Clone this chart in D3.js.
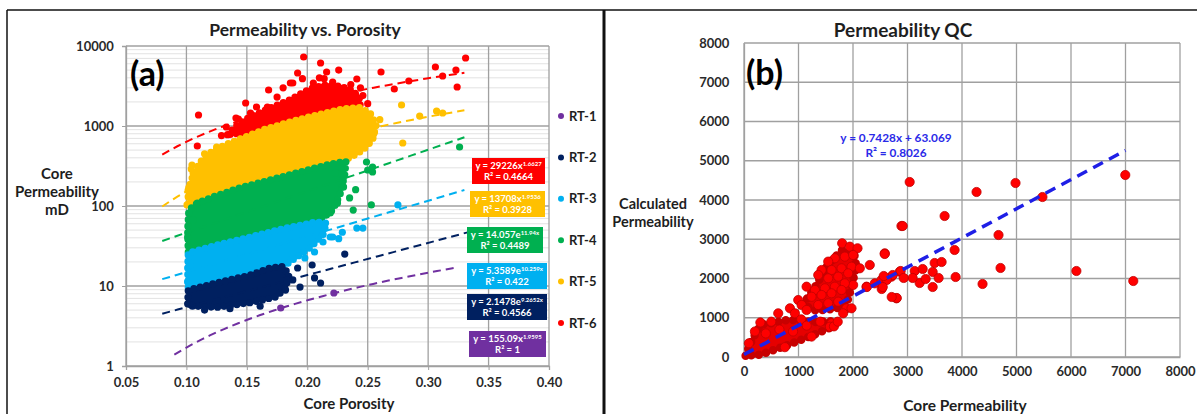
<!DOCTYPE html>
<html>
<head>
<meta charset="utf-8">
<script src="https://cdn.jsdelivr.net/npm/d3@7"></script>
<style>
  body { margin: 0; background: #fff; }
  text { font-family: Lato, 'Open Sans', sans-serif; font-weight: bold; }
</style>
</head>
<body>
<script>
// ---- panel (a) data : permeability vs porosity by rock type ----
const rockTypes = ['RT-1', 'RT-2', 'RT-3', 'RT-4', 'RT-5', 'RT-6'];
const xTicksA = [0.05, 0.10, 0.15, 0.20, 0.25, 0.30, 0.35, 0.40];
const yTicksA = [1, 10, 100, 1000, 10000];

// trend fits (coef, exponent, kind, R2, x range)
const fitCoef = [155.09, 2.1478, 5.3589, 14.057, 13708, 29226];
const fitExp = [1.9595, 9.2652, 10.259, 11.94, 1.9536, 1.6627];
const fitKind = ['pow', 'exp', 'exp', 'exp', 'pow', 'pow'];
const fitR2 = ['1', '0.4566', '0.422', '0.4489', '0.3928', '0.4664'];
const fitFrom = [0.09, 0.08, 0.08, 0.08, 0.08, 0.08];
const fitTo = [0.325, 0.335, 0.33, 0.33, 0.33, 0.33];

// dense clouds, outlines [porosity, mD]
const cloudRT6 = [[0.134,780],[0.141,1000],[0.150,1230],[0.160,1450],[0.172,1750],[0.185,2100],[0.194,2500],[0.203,2950],[0.215,3250],[0.227,3150],[0.237,2800],[0.243,2300],[0.244,1700],[0.232,1400],[0.200,1150],[0.160,850]];
const cloudRT5 = [[0.102,108],[0.101,150],[0.105,230],[0.111,350],[0.121,480],[0.133,590],[0.149,730],[0.165,910],[0.182,1080],[0.198,1260],[0.215,1450],[0.231,1650],[0.243,1700],[0.252,1450],[0.257,1029],[0.254,668],[0.246,501],[0.235,398],[0.219,345],[0.194,266],[0.169,211],[0.144,168],[0.124,133],[0.109,109]];
const cloudRT4 = [[0.1015,26.5],[0.101,50.1],[0.102,89],[0.109,109],[0.124,133],[0.144,168],[0.169,211],[0.194,266],[0.219,335],[0.232,360],[0.231,244],[0.227,137],[0.221,89],[0.211,67],[0.194,56],[0.180,52],[0.153,41],[0.125,32.5],[0.107,26.6]];
const cloudRT3 = [[0.1015,9.6],[0.101,15.8],[0.1015,25.8],[0.125,32.5],[0.153,41],[0.180,52],[0.207,63],[0.216,61],[0.213,43.4],[0.202,29.9],[0.190,22.4],[0.180,17.3],[0.153,13.7],[0.125,10.9],[0.107,9.0]];
const cloudRT2 = [[0.101,6.0],[0.1015,8.9],[0.125,10.9],[0.153,13.7],[0.169,16.8],[0.180,17.5],[0.185,13.7],[0.182,9.4],[0.174,7.3],[0.153,6.2],[0.125,5.4],[0.107,5.6]];
const cloudRT1 = [];

// single samples outside / on the edge of the clouds
const ptsRT6 = [[0.110,1372],[0.197,7287],[0.211,6132],[0.216,4732],[0.192,4597],[0.168,2818],[0.149,1939],[0.109,562],[0.241,3868],[0.261,4732],[0.272,2900],[0.284,3652],[0.306,5465],[0.312,4217],[0.323,5012],[0.331,7079],[0.324,3073],[0.141,1259],[0.158,1728],[0.188,3447],[0.150,944],[0.205,3447],[0.221,3548],[0.230,2585],[0.200,2585],[0.186,3447],[0.167,1728],[0.153,1454],[0.143,1223],[0.133,972],[0.129,760],[0.226,5000],[0.180,3000],[0.236,3300],[0.246,2400],[0.175,2300],[0.210,4000],[0.196,3900],[0.250,1900],[0.138,850],[0.162,1300],[0.244,3000],[0.214,3900]];
const ptsRT5 = [[0.1046,325],[0.1055,258],[0.108,211],[0.1055,133],[0.113,150],[0.120,410],[0.125,546],[0.1005,103],[0.111,194],[0.278,1830],[0.279,613],[0.293,1334],[0.307,1540],[0.312,1454],[0.252,972],[0.246,1496],[0.238,613],[0.230,434],[0.260,1200],[0.255,800],[0.104,290],[0.115,450],[0.102,170]];
const ptsRT4 = [[0.249,355],[0.254,307],[0.250,282],[0.254,266],[0.223,258],[0.230,230],[0.230,173],[0.225,109],[0.238,89],[0.253,103],[0.326,546],[0.219,82],[0.235,126],[0.101,41],[0.103,29.9],[0.1055,67],[0.109,109],[0.240,160],[0.228,300]];
const ptsRT3 = [[0.213,35.5],[0.219,41],[0.206,26.6],[0.198,22.4],[0.188,22.4],[0.275,103],[0.241,53],[0.246,53],[0.226,39],[0.221,41],[0.229,47],[0.101,11.2],[0.103,18.3]];
const ptsRT2 = [[0.192,16.8],[0.204,18.3],[0.206,12.6],[0.211,10.9],[0.194,9.7],[0.183,11.9],[0.182,8.9],[0.231,25.1],[0.188,11.9],[0.115,5.0],[0.136,5.2],[0.161,5.6],[0.105,5.6]];
const ptsRT1 = [[0.178,5.31],[0.222,8.18]];

// ---- panel (b) data : calculated vs core permeability ----
const xTicksB = [0, 1000, 2000, 3000, 4000, 5000, 6000, 7000, 8000];
const yTicksB = [0, 1000, 2000, 3000, 4000, 5000, 6000, 7000, 8000];
const qcSlope = 0.7428, qcIntercept = 63.069, qcR2 = '0.8026', qcTo = 7000;
const qcWedge = [[30,30],[110,330],[220,620],[320,830],[500,860],[700,920],[850,950],[1050,920],[1300,890],[1560,920],[1690,870],[1620,770],[1240,540],[750,280],[300,60]];
const qcCluster = [[1080,1330],[1320,1820],[1550,2380],[1800,2720],[2020,2640],[2060,2300],[1980,1835],[1880,1330],[1667,1230],[1320,1180]];
const qcPts = [[1801,2897],[1942,2811],[2083,2770],[1667,2515],[1850,2557],[2003,2599],[1545,2430],[1423,2217],[1606,2217],[1790,2260],[1973,2301],[2125,2260],[2308,2344],[1362,2090],[1545,2005],[1728,2047],[1911,2132],[2003,1835],[1148,1792],[1301,1707],[1484,1750],[1667,1792],[1850,1877],[995,1452],[1240,1536],[1423,1580],[1606,1623],[1790,1707],[1881,1241],[1819,1113],[1973,1241],[1057,1325],[843,1241],[628,1113],[934,1113],[1148,1198],[1362,1325],[1545,1368],[1728,1410],[2248,1792],[2400,1877],[2583,2642],[2523,1962],[2706,2047],[2858,2174],[2797,1495],[2889,3338],[1606,859],[1576,773],
  [3040,4459],[4267,4204],[4982,4433],[5476,4076],[6996,4637],[3681,3592],[2912,3338],[4670,3108],[2582,2624],[3864,2726],[4707,2268],[6099,2191],[7143,1936],[4377,1860],[2802,1503],[2875,2191],[3132,2191],[3278,2242],[3462,2166],[3498,2395],[3626,2420],[3571,2013],[3883,2038],[3462,1783],[3223,1885],[3333,1987],[3095,2013],[2930,2013],[2729,2089],[2619,1962],[2527,1732],[2564,2064],[2253,1783],[2546,1783],[2710,1529],
  [300,880],[90,350],[200,650],[750,250],[1240,520],[1650,780],[1720,900],[500,900],[1050,960],[400,600],[650,700],[900,650],[1150,800],[1400,900]];

// ---- drawing ----
const colors = ['#7030A0', '#002060', '#00B0F0', '#00B050', '#FFC000', '#FF0000'];
const clouds = [cloudRT1, cloudRT2, cloudRT3, cloudRT4, cloudRT5, cloudRT6];
const points = [ptsRT1, ptsRT2, ptsRT3, ptsRT4, ptsRT5, ptsRT6];
const ink = '#1e1e1e';

const svg = d3.select('body').append('svg').attr('width', 1197).attr('height', 414);

// frame lines of the figure
svg.append('line').attr('x1', 7).attr('x2', 1197).attr('y1', 10).attr('y2', 10).attr('stroke', '#111').attr('stroke-width', 1.5);
svg.append('line').attr('x1', 7).attr('x2', 7).attr('y1', 10).attr('y2', 414).attr('stroke', '#111').attr('stroke-width', 1.5);
svg.append('line').attr('x1', 604).attr('x2', 604).attr('y1', 10).attr('y2', 414).attr('stroke', '#111').attr('stroke-width', 3);

const gridCol = '#a0a0a0', tickCol = '#2a2a2a';

/* Panel (a) */
const xA = d3.scaleLinear().domain([0.05, 0.40]).range([126, 549]);
const yA = d3.scaleLog().domain([1, 10000]).range([366, 46]);
const gA = svg.append('g');

// minor log gridlines
const minorA = [];
[1, 10, 100, 1000].forEach(d => { for (let k = 2; k < 10; k++) minorA.push(d * k); });
gA.selectAll('.minor').data(minorA).enter().append('line')
  .attr('x1', xA(0.05)).attr('x2', xA(0.40))
  .attr('y1', d => yA(d)).attr('y2', d => yA(d))
  .attr('stroke', '#e2e2e2').attr('stroke-width', 1);
gA.selectAll('.hgrid').data(yTicksA).enter().append('line')
  .attr('x1', xA(0.05)).attr('x2', xA(0.40))
  .attr('y1', d => yA(d)).attr('y2', d => yA(d))
  .attr('stroke', gridCol).attr('stroke-width', 1.3);
gA.selectAll('.vgrid').data(xTicksA).enter().append('line')
  .attr('x1', d => xA(d)).attr('x2', d => xA(d))
  .attr('y1', yA(1)).attr('y2', yA(10000))
  .attr('stroke', gridCol).attr('stroke-width', 1.3);

const axA = gA.append('g').attr('transform', `translate(0,${yA(1)})`)
  .call(d3.axisBottom(xA).tickValues(xTicksA).tickFormat(d3.format('.2f')).tickSize(4));
const ayA = gA.append('g').attr('transform', `translate(${xA(0.05)},0)`)
  .call(d3.axisLeft(yA).tickValues(yTicksA).tickFormat(d3.format('d')).tickSize(4));
[axA, ayA].forEach(a => {
  a.select('.domain').attr('stroke', gridCol).attr('stroke-width', 1.3);
  a.selectAll('.tick line').attr('stroke', gridCol);
  a.selectAll('text').attr('fill', tickCol).style('font-size', '13px');
});
axA.selectAll('text').attr('dy', '1.1em');
ayA.selectAll('text').attr('dx', '-0.4em');

// clouds: filled outline with a beaded edge so it reads as packed dots
const cloudLine = d3.line().x(d => xA(d[0])).y(d => yA(d[1])).curve(d3.curveLinearClosed);
for (let i = 5; i >= 0; i--) {
  if (clouds[i].length) {
    gA.append('path').attr('d', cloudLine(clouds[i]))
      .attr('fill', colors[i]).attr('stroke', colors[i]).attr('stroke-width', 7.2)
      .attr('stroke-linecap', 'round').attr('stroke-dasharray', '0,6.5');
  }
  gA.append('g').selectAll('circle').data(points[i]).enter().append('circle')
    .attr('cx', d => xA(d[0])).attr('cy', d => yA(d[1])).attr('r', 3.6)
    .attr('fill', colors[i]);
}

// trend lines
function fitY(i, x) {
  return fitKind[i] === 'pow' ? fitCoef[i] * Math.pow(x, fitExp[i]) : fitCoef[i] * Math.exp(fitExp[i] * x);
}
const trendA = d3.line().x(d => xA(d[0])).y(d => yA(d[1]));
for (let i = 0; i < 6; i++) {
  const xs = d3.range(0, 41).map(k => fitFrom[i] + (fitTo[i] - fitFrom[i]) * k / 40);
  gA.append('path').attr('d', trendA(xs.map(x => [x, fitY(i, x)])))
    .attr('fill', 'none').attr('stroke', colors[i]).attr('stroke-width', 2)
    .attr('stroke-dasharray', '8,5');
}

// equation boxes
const boxTop = [331, 294, 263, 227, 191, 158];
const boxLeft = [469, 467, 467, 467, 470, 472];
const boxW = [77, 80, 80, 76, 75, 73];
for (let i = 0; i < 6; i++) {
  const bx = boxLeft[i], by = boxTop[i], cx = bx + boxW[i] / 2;
  gA.append('rect').attr('x', bx).attr('y', by).attr('width', boxW[i]).attr('height', 26).attr('fill', colors[i]);
  const t1 = gA.append('text').attr('x', cx).attr('y', by + 11).attr('text-anchor', 'middle')
    .attr('fill', '#fff').style('font-size', '9.5px');
  if (fitKind[i] === 'pow') {
    t1.append('tspan').text(`y = ${fitCoef[i]}x`);
    t1.append('tspan').attr('dy', -3).style('font-size', '6px').text(fitExp[i]);
  } else {
    t1.append('tspan').text(`y = ${fitCoef[i]}e`);
    t1.append('tspan').attr('dy', -3).style('font-size', '6px').text(fitExp[i] + 'x');
  }
  gA.append('text').attr('x', cx).attr('y', by + 22).attr('text-anchor', 'middle')
    .attr('fill', '#fff').style('font-size', '9.5px').text(`R² = ${fitR2[i]}`);
}

// legend
rockTypes.forEach((rt, i) => {
  const ly = 116 + i * 41.4;
  gA.append('circle').attr('cx', 561).attr('cy', ly).attr('r', 3).attr('fill', colors[i]);
  gA.append('text').attr('x', 569).attr('y', ly + 4.5).attr('fill', ink).style('font-size', '13px').text(rt);
});

// titles
gA.append('text').attr('x', 305).attr('y', 36).attr('text-anchor', 'middle').attr('fill', ink).style('font-size', '17.5px').text('Permeability vs. Porosity');
gA.append('text').attr('x', 130).attr('y', 86).attr('fill', '#000').style('font-size', '34px').text('(a)');
gA.append('text').attr('x', 349).attr('y', 409).attr('text-anchor', 'middle').attr('fill', ink).style('font-size', '15px').text('Core Porosity');
['Core', 'Permeability', 'mD'].forEach((s, k) => {
  gA.append('text').attr('x', 57).attr('y', 179 + k * 18).attr('text-anchor', 'middle').attr('fill', ink).style('font-size', '15px').text(s);
});

/* Panel (b) */
const xB = d3.scaleLinear().domain([0, 8000]).range([744, 1180]);
const yB = d3.scaleLinear().domain([0, 8000]).range([357, 43]);
const gB = svg.append('g');

gB.selectAll('.hgrid').data(yTicksB).enter().append('line')
  .attr('x1', xB(0)).attr('x2', xB(8000))
  .attr('y1', d => yB(d)).attr('y2', d => yB(d))
  .attr('stroke', gridCol).attr('stroke-width', 1.3);
gB.selectAll('.vgrid').data(xTicksB).enter().append('line')
  .attr('x1', d => xB(d)).attr('x2', d => xB(d))
  .attr('y1', yB(0)).attr('y2', yB(8000))
  .attr('stroke', gridCol).attr('stroke-width', 1.3);

const axB = gB.append('g').attr('transform', `translate(0,${yB(0)})`)
  .call(d3.axisBottom(xB).tickValues(xTicksB).tickFormat(d3.format('d')).tickSize(0));
const ayB = gB.append('g').attr('transform', `translate(${xB(0)},0)`)
  .call(d3.axisLeft(yB).tickValues(yTicksB).tickFormat(d3.format('d')).tickSize(0));
[axB, ayB].forEach(a => {
  a.select('.domain').attr('stroke', gridCol).attr('stroke-width', 1.3);
  a.selectAll('text').attr('fill', tickCol).style('font-size', '13px');
});
axB.selectAll('text').attr('dy', '1.2em');
ayB.selectAll('text').attr('dx', '-0.9em');

// dense parts, then single points
const blobLine = d3.line().x(d => xB(d[0])).y(d => yB(d[1])).curve(d3.curveLinearClosed);
[qcWedge, qcCluster].forEach(poly => {
  gB.append('path').attr('d', blobLine(poly))
    .attr('fill', '#e60000').attr('stroke', '#c80000').attr('stroke-width', 8.5)
    .attr('stroke-linecap', 'round').attr('stroke-dasharray', '0,7.5');
});
gB.append('g').selectAll('circle').data(qcPts).enter().append('circle')
  .attr('cx', d => xB(d[0])).attr('cy', d => yB(d[1])).attr('r', 4.6)
  .attr('fill', '#ff0000').attr('stroke', '#c00000').attr('stroke-width', 0.8);

// fit line
gB.append('line')
  .attr('x1', xB(0)).attr('y1', yB(qcIntercept))
  .attr('x2', xB(qcTo)).attr('y2', yB(qcSlope * qcTo + qcIntercept))
  .attr('stroke', '#1f1fe6').attr('stroke-width', 3.5).attr('stroke-dasharray', '11,7');
gB.append('text').attr('x', 896).attr('y', 142).attr('text-anchor', 'middle').attr('fill', '#2a2ae8').style('font-size', '11.8px')
  .text(`y = ${qcSlope}x + ${qcIntercept}`);
gB.append('text').attr('x', 896).attr('y', 157).attr('text-anchor', 'middle').attr('fill', '#2a2ae8').style('font-size', '11.8px')
  .text(`R² = ${qcR2}`);

// titles
gB.append('text').attr('x', 903).attr('y', 37).attr('text-anchor', 'middle').attr('fill', ink).style('font-size', '19px').text('Permeability QC');
gB.append('text').attr('x', 746).attr('y', 85).attr('fill', '#000').style('font-size', '34px').text('(b)');
gB.append('text').attr('x', 965).attr('y', 411).attr('text-anchor', 'middle').attr('fill', ink).style('font-size', '15.5px').text('Core Permeability');
['Calculated', 'Permeability'].forEach((s, k) => {
  gB.append('text').attr('x', 653).attr('y', 209 + k * 18).attr('text-anchor', 'middle').attr('fill', ink).style('font-size', '14.5px').text(s);
});
</script>
</body>
</html>
